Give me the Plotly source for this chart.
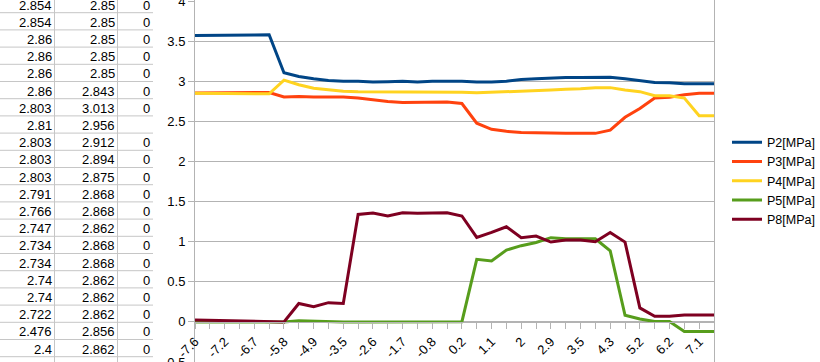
import plotly.graph_objects as go

# ---------------- data ----------------
categories = ["-7.6", "-7.4", "-7.2", "-7", "-6.7", "-6.2", "-5.8", "-5.3", "-4.9", "-4.2",
              "-3.5", "-3", "-2.6", "-2.1", "-1.7", "-1.2", "-0.8", "-0.3", "0.2", "0.7",
              "1.1", "1.5", "2", "2.5", "2.9", "3.2", "3.5", "3.9", "4.3", "4.8",
              "5.2", "5.7", "6.2", "6.6", "7.1", "7.5"]

p2 = [3.57, 3.57, 3.57, 3.57, 3.575, 3.58,
      3.105, 3.06, 3.03, 3.01, 3.0, 3.0, 2.99, 2.995, 3.0, 2.99, 3.0, 3.0,
      3.0, 2.99, 2.99, 3.0, 3.02, 3.03, 3.04, 3.045, 3.045, 3.05, 3.05, 3.03,
      3.01, 2.985, 2.98, 2.97, 2.97, 2.97]
p3 = [2.854, 2.854, 2.86, 2.86, 2.86, 2.86, 2.803, 2.81, 2.803, 2.803, 2.803,
      2.791, 2.766, 2.747, 2.734, 2.734, 2.74, 2.74, 2.722, 2.476, 2.4, 2.375,
      2.36, 2.355, 2.35, 2.35, 2.35, 2.35, 2.39, 2.55, 2.66, 2.79, 2.80, 2.83,
      2.85, 2.85]
p4 = [2.85, 2.85, 2.85, 2.85, 2.85, 2.843, 3.013, 2.956, 2.912, 2.894, 2.875,
      2.868, 2.868, 2.862, 2.868, 2.868, 2.862, 2.862, 2.862, 2.856, 2.862, 2.868,
      2.87, 2.88, 2.89, 2.90, 2.905, 2.92, 2.92, 2.89, 2.87, 2.82, 2.82, 2.79,
      2.57, 2.57]
p5 = [0, 0, 0, 0, 0, 0, 0, 0.015, 0.008, 0, 0, 0, 0, 0, 0, 0, 0.003, 0.003, 0.003,
      0.78, 0.76, 0.895, 0.95, 0.99, 1.05, 1.036, 1.036, 1.036, 0.887, 0.083,
      0.037, 0.005, 0.005, -0.12, -0.12, -0.12]
p8 = [0.025, 0.02, 0.012, 0.012, 0.01, 0, 0, 0.23, 0.19, 0.24, 0.23,
      1.34, 1.356, 1.32, 1.36, 1.355, 1.36, 1.36, 1.32,
      1.053, 1.115, 1.186, 1.049, 1.07, 0.995, 1.02, 1.02, 1.0, 1.115, 0.995,
      0.174, 0.07, 0.07, 0.087, 0.087, 0.087]

series_names = ["P2[MPa]", "P3[MPa]", "P4[MPa]", "P5[MPa]", "P8[MPa]"]
series_values = [p2, p3, p4, p5, p8]
series_colors = ["#004586", "#ff420e", "#ffd320", "#579d1c", "#7e0021"]

# spreadsheet cells visible at the left of the screenshot
table_col1 = p3[:22]
table_col2 = p4[:22]
table_col3 = ["0"] * 7 + [""] + ["0"] * 14

# ---------------- figure ----------------
W, H = 820, 362
L, R, T, B = 195, 106, 0, 0
PW, PH = W - L - R, H - T - B


def fx(px):
    return (px - L) / PW


def fy(py):
    return (H - B - py) / PH


xidx = list(range(len(categories)))
fig = go.Figure()
for name, vals, col in zip(series_names, series_values, series_colors):
    fig.add_trace(go.Scatter(x=xidx, y=vals, name=name, mode="lines",
                             line=dict(color=col, width=3)))

FONT = "Liberation Sans, Arial, sans-serif"
GRID = "#b3b3b3"

shapes = []
annotations = []
# spreadsheet grid
row_h = 17.2
for k in range(21):
    y = 12.7 + row_h * k
    shapes.append(dict(type="line", xref="paper", yref="paper",
                       x0=fx(0), x1=fx(153), y0=fy(y), y1=fy(y),
                       line=dict(color="#c6c6c6", width=1)))
for xv in (54.5, 117.5):
    shapes.append(dict(type="line", xref="paper", yref="paper",
                       x0=fx(xv), x1=fx(xv), y0=fy(0), y1=fy(362),
                       line=dict(color="#c6c6c6", width=1)))
for k in range(22):
    yc = 4.1 + row_h * k + 1.0
    for txt, xr in ((f"{table_col1[k]:g}", 53), (f"{table_col2[k]:g}", 116), (table_col3[k], 151)):
        if txt == "":
            continue
        annotations.append(dict(text=txt, xref="paper", yref="paper", x=fx(xr), y=fy(yc),
                                xanchor="right", yanchor="middle", showarrow=False,
                                font=dict(family=FONT, size=13, color="#000000"), borderpad=0))

YMIN, YMAX = -0.5, 4.0125
fig.update_layout(
    template="none",
    width=W, height=H,
    margin=dict(l=L, r=R, t=T, b=B, autoexpand=False),
    paper_bgcolor="white", plot_bgcolor="white",
    font=dict(family=FONT, size=13, color="#000000"),
    shapes=shapes, annotations=annotations,
    legend=dict(xref="container", yref="container", x=727 / W, xanchor="left",
                y=(H - 181) / H, yanchor="middle",
                font=dict(family=FONT, size=12.5, color="#000000"),
                bgcolor="rgba(0,0,0,0)", itemwidth=30, tracegroupgap=0),
    xaxis=dict(range=[0, len(categories) - 1], anchor="free",
               position=(0 - YMIN) / (YMAX - YMIN),
               automargin=False, ticklabeloverflow="allow",
               tickmode="array", tickvals=xidx[::2], ticktext=categories[::2],
               tickangle=-45, ticks="outside", ticklen=6, tickcolor=GRID,
               showline=True, linecolor=GRID, linewidth=1,
               showgrid=False, zeroline=False,
               tickfont=dict(family=FONT, size=13, color="#000000"),
               minor=dict(ticks="outside", ticklen=6, tickcolor=GRID, tickmode="linear",
                          tick0=0, dtick=1, showgrid=False)),
    yaxis=dict(range=[YMIN, YMAX], tick0=0, dtick=0.5, automargin=False,
               ticklabeloverflow="allow",
               showgrid=True, gridcolor=GRID, gridwidth=1,
               showline=True, linecolor=GRID, linewidth=1, mirror=True,
               ticks="outside", ticklen=6, tickcolor=GRID,
               zeroline=False,
               tickfont=dict(family=FONT, size=13, color="#000000")),
)

fig.write_html("out.html", config={"displayModeBar": False},
               post_script="document.body.style.margin='0';document.body.style.overflow='hidden';")
